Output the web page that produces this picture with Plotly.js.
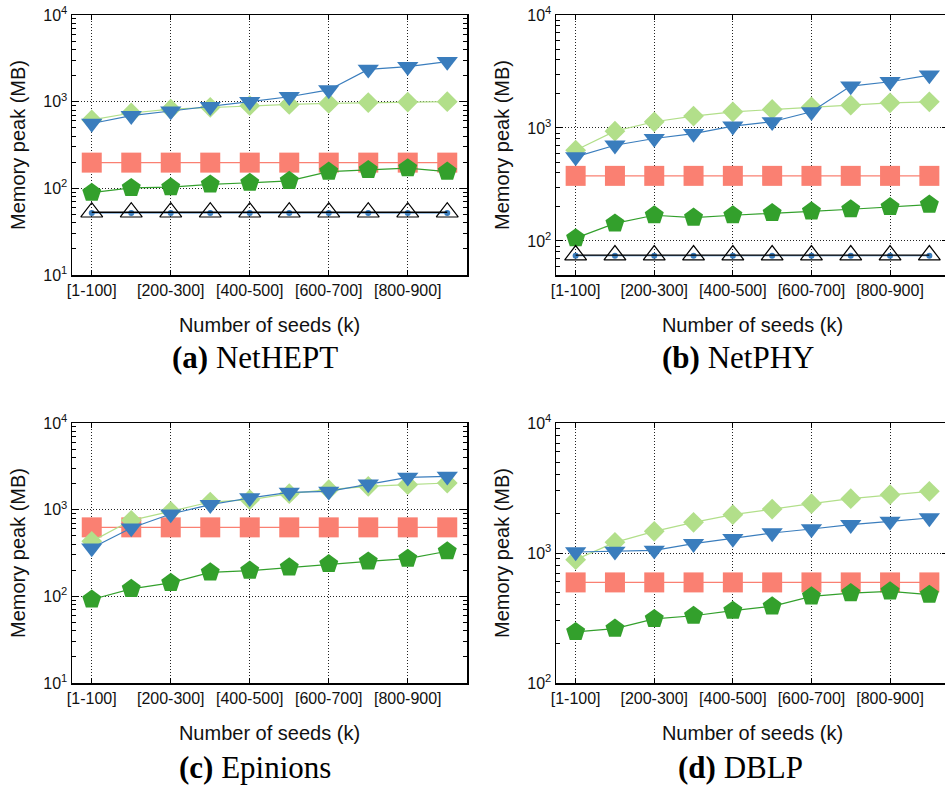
<!DOCTYPE html>
<html><head><meta charset="utf-8">
<script src="https://cdn.plot.ly/plotly-3.0.1.min.js"></script>
<style>html,body{margin:0;padding:0;overflow:hidden;background:#fff}#chart{width:955px;height:789px}</style>
</head><body><div id="chart"></div><script>
const categories = ['[1-100]','[100-200]','[200-300]','[300-400]','[400-500]','[500-600]','[600-700]','[700-800]','[800-900]','[900-1000]'];
const tickLabels = ['[1-100]','[200-300]','[400-500]','[600-700]','[800-900]'];
const yTickVals = [10, 100, 1000, 10000];
const yTickText = ['10<sup>1</sup>','10<sup>2</sup>','10<sup>3</sup>','10<sup>4</sup>'];
const captions = ['<b>(a)</b> NetHEPT','<b>(b)</b> NetPHY','<b>(c)</b> Epinions','<b>(d)</b> DBLP'];

// (a) NetHEPT
const aTriDown  = [560,690,780,875,1000,1140,1365,2360,2535,2900];
const aDiamond  = [615,740,820,860,900,930,955,975,990,1000];
const aSquare   = [198,198,198,198,198,198,198,198,198,198];
const aPentagon = [89,101,103,111,116,122,156,163,171,156];
const aOpenTri  = [53,53,53,53,53,53,53,53,53,53];
const aDot      = [52,52,52,52,52,52,52,52,52,52];
// (b) NetPHY
const bTriDown  = [555,704,807,893,1038,1135,1391,2350,2566,2939];
const bDiamond  = [636,937,1135,1274,1391,1459,1540,1593,1670,1706];
const bSquare   = [377,377,377,377,377,377,377,377,377,377];
const bPentagon = [106,143,169,161,169,177,183,191,200,210];
const bOpenTri  = [75,75,75,75,75,75,75,75,75,75];
const bDot      = [74,74,74,74,74,74,74,74,74,74];
// (c) Epinions
const cTriDown  = [361,614,891,1142,1364,1585,1628,1977,2361,2424];
const cDiamond  = [431,754,957,1225,1304,1530,1702,1858,1943,2031];
const cSquare   = [625,625,625,625,625,625,625,625,625,625];
const cPentagon = [92,122,143,189,198,216,236,253,272,331];
// (d) DBLP
const dTriDown  = [1018,1030,1049,1180,1290,1425,1530,1652,1753,1859];
const dDiamond  = [889,1208,1468,1722,1972,2178,2395,2616,2810,2981];
const dSquare   = [594,594,594,594,594,594,594,594,594,594];
const dPentagon = [247,262,311,329,360,389,464,492,507,478];

const BLUE='#3a7dbd', LGREEN='#b2df8a', SALMON='#fa8072', DGREEN='#33a02c';

function series(y, ax, sym, size, color, opts) {
  opts = opts || {};
  return {
    x: categories, y: y, xaxis: 'x'+ax, yaxis: 'y'+ax, type: 'scatter', mode: 'lines+markers',
    showlegend: false, cliponaxis: false,
    line: {color: opts.lineColor || color, width: opts.lw || 1.2},
    marker: {symbol: sym, size: size, color: color, line: {width: opts.mlw || 0, color: opts.mlc || color}}
  };
}
function panel(ax, tri, dia, sq, pen, open, dot) {
  const t = [
    series(sq, ax, 'square', 20, SALMON),
    series(pen, ax, 'pentagon', 20, DGREEN),
    series(dia, ax, 'diamond', 16, LGREEN),
    series(tri, ax, 'triangle-down', 18.5, BLUE)
  ];
  if (open) {
    t.push(series(dot, ax, 'circle', 6, BLUE));
    t.push(series(open, ax, 'triangle-up-open', 19, '#000', {mlw: 1.2, mlc: '#000', lw: 1.4}));
  }
  return t;
}
const data = [].concat(
  panel('', aTriDown, aDiamond, aSquare, aPentagon, aOpenTri, aDot),
  panel('2', bTriDown, bDiamond, bSquare, bPentagon, bOpenTri, bDot),
  panel('3', cTriDown, cDiamond, cSquare, cPentagon),
  panel('4', dTriDown, dDiamond, dSquare, dPentagon)
);

const W=955, H=789;
const FONT='Liberation Sans, Arial, sans-serif';
function xax(dom, anchor) {
  return {
    domain: dom, anchor: anchor, type: 'category', categoryorder: 'array', categoryarray: categories,
    range: [-0.5, 9.5], tickmode: 'array', tickvals: tickLabels, ticktext: tickLabels,
    ticks: 'inside', ticklen: 5, tickcolor: '#000', tickwidth: 1,
    showline: true, linecolor: '#000', linewidth: 1.5, mirror: 'ticks',
    showgrid: true, gridcolor: '#222', griddash: '1px,2px', gridwidth: 1,
    tickfont: {family: FONT, size: 16, color: '#111'},
    title: {text: 'Number of seeds (k)', font: {family: FONT, size: 20, color: '#111'}, standoff: 20},
    zeroline: false, fixedrange: true
  };
}
function yax(dom, anchor, range) {
  return {
    domain: dom, anchor: anchor, type: 'log', range: range,
    tickmode: 'array', tickvals: yTickVals, ticktext: yTickText,
    ticks: 'inside', ticklen: 7, tickcolor: '#000', tickwidth: 1,
    minor: {ticks: 'inside', ticklen: 4, dtick: 'D1', tickcolor: '#000', showgrid: false},
    showline: true, linecolor: '#000', linewidth: 1.5, mirror: 'ticks',
    showgrid: true, gridcolor: '#222', griddash: '1px,2px', gridwidth: 1,
    tickfont: {family: FONT, size: 16, color: '#111'},
    title: {text: 'Memory peak (MB)', font: {family: FONT, size: 20, color: '#111'}, standoff: 12},
    zeroline: false, fixedrange: true
  };
}
const xL=[72/W, 467/W], xR=[556/W, 949/W];
const yT=[1-275/H, 1-15/H], yB=[1-683/H, 1-423/H];
const capFont={family:'Liberation Serif, Times New Roman, serif', size:31, color:'#000'};
function cap(text, px, py) {
  return {text: text, xref: 'paper', yref: 'paper', x: px/W, y: 1-py/H, xanchor: 'center', yanchor: 'middle', showarrow: false, font: capFont};
}
const layout = {
  width: W, height: H, autosize: false,
  margin: {l: 0, r: 0, t: 0, b: 0, pad: 0},
  paper_bgcolor: '#fff', plot_bgcolor: '#fff',
  xaxis: xax(xL, 'y'), yaxis: yax(yT, 'x', [1, 4]),
  xaxis2: xax(xR, 'y2'), yaxis2: yax(yT, 'x2', [Math.log10(50), 4]),
  xaxis3: xax(xL, 'y3'), yaxis3: yax(yB, 'x3', [1, 4]),
  xaxis4: xax(xR, 'y4'), yaxis4: yax(yB, 'x4', [2, 4]),
  annotations: [
    cap(captions[0], 255, 357), cap(captions[1], 738, 357),
    cap(captions[2], 255, 767), cap(captions[3], 740, 767)
  ]
};
Plotly.newPlot('chart', data, layout, {staticPlot: true, displayModeBar: false});
</script></body></html>
